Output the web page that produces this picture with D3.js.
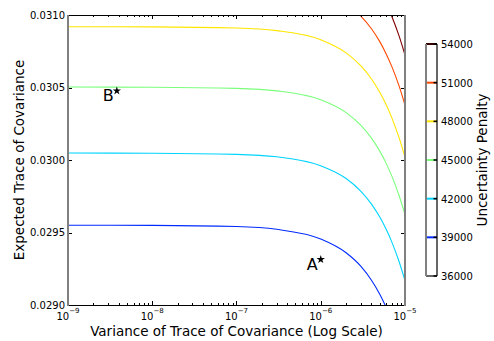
<!DOCTYPE html>
<html>
<head>
<meta charset="utf-8">
<script src="https://cdn.jsdelivr.net/npm/d3@7"></script>
<style>
  html, body { margin: 0; padding: 0; background: #fff; }
  svg { display: block; font-family: "DejaVu Sans", sans-serif; }
</style>
</head>
<body>
<svg id="chart" width="494" height="341"></svg>
<script>
// ---- data ----
const penalties = [39000, 42000, 45000, 48000, 51000, 54000];
const lineColors = ["#002bff", "#00d4ff", "#7bff7b", "#ffe600", "#ff4800", "#800000"];
const variances = [1e-9, 1e-8, 1e-7, 3e-7, 1e-6, 2e-6, 3e-6, 4e-6, 5e-6, 6e-6, 7e-6, 8.5e-6, 1e-5];
const trace39000 = [0.029550, 0.029549, 0.029541, 0.029522, 0.029455, 0.029360, 0.029266, 0.029171, 0.029076, 0.028981, 0.028886, 0.028744, 0.028602];
const trace42000 = [0.030048, 0.030047, 0.030039, 0.030022, 0.029960, 0.029872, 0.029784, 0.029696, 0.029608, 0.029520, 0.029432, 0.029300, 0.029168];
const trace45000 = [0.030503, 0.030502, 0.030494, 0.030477, 0.030415, 0.030327, 0.030239, 0.030151, 0.030063, 0.029975, 0.029887, 0.029755, 0.029623];
const trace48000 = [0.030919, 0.030918, 0.030910, 0.030892, 0.030829, 0.030739, 0.030649, 0.030559, 0.030469, 0.030379, 0.030289, 0.030154, 0.030019];
const trace51000 = [0.031256, 0.031255, 0.031247, 0.031230, 0.031168, 0.031081, 0.030993, 0.030905, 0.030818, 0.030730, 0.030642, 0.030511, 0.030379];
const trace54000 = [0.031604, 0.031603, 0.031595, 0.031578, 0.031516, 0.031428, 0.031340, 0.031252, 0.031164, 0.031076, 0.030988, 0.030856, 0.030724];
const seriesValues = [trace39000, trace42000, trace45000, trace48000, trace51000, trace54000];

const yTicks = [0.0290, 0.0295, 0.0300, 0.0305, 0.0310];
const xTickExponents = [-9, -8, -7, -6, -5];
const cbTicks = [36000, 39000, 42000, 45000, 48000, 51000, 54000];

const pointLabels = ["A", "B"];
const pointX = [1e-6, 3.8e-9];
const pointY = [0.029314, 0.030477];

const xLabel = "Variance of Trace of Covariance (Log Scale)";
const yLabel = "Expected Trace of Covariance";
const cbLabel = "Uncertainty Penalty";

// ---- layout ----
const L = 68, R = 405, T = 15, B = 305;
const cbL = 426, cbR = 437, cbT = 44, cbB = 276;

const svg = d3.select("#chart");
const x = d3.scaleLog().domain([1e-9, 1e-5]).range([L, R]);
const y = d3.scaleLinear().domain([0.0290, 0.0310]).range([B, T]);

svg.append("defs").append("clipPath").attr("id", "plotclip")
  .append("rect").attr("x", L).attr("y", T).attr("width", R - L).attr("height", B - T);

// curves
const line = d3.line()
  .x(d => x(d[0])).y(d => y(d[1]))
  .curve(d3.curveMonotoneX);

const curves = svg.append("g").attr("clip-path", "url(#plotclip)");
seriesValues.forEach((vals, i) => {
  const pts = variances.map((v, j) => [v, vals[j]]);
  curves.append("path")
    .attr("d", line(pts))
    .attr("fill", "none")
    .attr("stroke", lineColors[i])
    .attr("stroke-width", 1.1);
});

// ticks (inward)
const tickG = svg.append("g").attr("stroke", "#000").attr("stroke-width", 1);
// x major & minor
for (let e = -9; e <= -5; e++) {
  for (let m = 1; m <= 9; m++) {
    const v = m * Math.pow(10, e);
    if (v > 1e-5 * 1.0001) break;
    const px = Math.round(x(v)) + 0.5;
    const len = m === 1 ? 4 : 2;
    tickG.append("line").attr("x1", px).attr("x2", px).attr("y1", B).attr("y2", B - len);
    tickG.append("line").attr("x1", px).attr("x2", px).attr("y1", T).attr("y2", T + len);
  }
}
// y major
yTicks.forEach(v => {
  const py = Math.round(y(v)) + 0.5;
  tickG.append("line").attr("x1", L).attr("x2", L + 4).attr("y1", py).attr("y2", py);
  tickG.append("line").attr("x1", R).attr("x2", R - 4).attr("y1", py).attr("y2", py);
});

// spines
svg.append("line").attr("x1", L).attr("x2", R).attr("y1", T + 0.5).attr("y2", T + 0.5)
  .attr("stroke", "#000").attr("stroke-width", 1.2);
svg.append("line").attr("x1", L).attr("x2", R).attr("y1", B + 0.5).attr("y2", B + 0.5)
  .attr("stroke", "#000").attr("stroke-width", 1.2);
svg.append("line").attr("x1", L).attr("x2", L).attr("y1", T).attr("y2", B + 1)
  .attr("stroke", "#808080").attr("stroke-width", 2);
svg.append("line").attr("x1", R).attr("x2", R).attr("y1", T).attr("y2", B + 1)
  .attr("stroke", "#808080").attr("stroke-width", 2);

// y tick labels
svg.append("g").selectAll("text").data(yTicks).join("text")
  .attr("x", L - 3).attr("y", d => y(d) + 3.7)
  .attr("text-anchor", "end").attr("font-size", 10).attr("fill", "#000")
  .text(d => d3.format(".4f")(d));

// x tick labels 10^e
const xl = svg.append("g");
xTickExponents.forEach(e => {
  const t = xl.append("text")
    .attr("x", x(Math.pow(10, e))).attr("y", 319.5)
    .attr("text-anchor", "middle").attr("font-size", 10).attr("fill", "#000");
  t.append("tspan").text("10");
  t.append("tspan").attr("dy", -7).attr("font-size", 7).text("\u2212" + Math.abs(e));
});

// axis labels
svg.append("text").attr("x", (L + R) / 2).attr("y", 335.5)
  .attr("text-anchor", "middle").attr("font-size", 13.5).attr("fill", "#000")
  .text(xLabel);
svg.append("text").attr("transform", `translate(23.5,${(T + B) / 2}) rotate(-90)`)
  .attr("text-anchor", "middle").attr("font-size", 13.5).attr("fill", "#000")
  .text(yLabel);

// annotated points
const star = d3.symbol().type(d3.symbolStar).size(22);
pointLabels.forEach((lab, i) => {
  const px = x(pointX[i]), py = y(pointY[i]);
  svg.append("path").attr("d", star()).attr("transform", `translate(${px},${py})`).attr("fill", "#000");
  svg.append("text").attr("x", px - 3).attr("y", py + 10.5)
    .attr("text-anchor", "end").attr("font-size", 16).attr("fill", "#000").text(lab);
});

// colorbar
const cb = d3.scaleLinear().domain([36000, 54000]).range([cbB, cbT]);
svg.append("rect").attr("x", cbL).attr("y", cbT).attr("width", cbR - cbL).attr("height", cbB - cbT)
  .attr("fill", "#fff");
penalties.forEach((p, i) => {
  svg.append("line").attr("x1", cbL).attr("x2", cbR).attr("y1", cb(p)).attr("y2", cb(p))
    .attr("stroke", lineColors[i]).attr("stroke-width", 2);
});
cbTicks.forEach(v => {
  svg.append("line").attr("x1", cbR - 3.5).attr("x2", cbR).attr("y1", cb(v)).attr("y2", cb(v))
    .attr("stroke", "#000").attr("stroke-width", 1.5);
});
svg.append("line").attr("x1", cbL).attr("x2", cbR).attr("y1", cbT).attr("y2", cbT).attr("stroke", "#000").attr("stroke-width", 1.2);
svg.append("line").attr("x1", cbL).attr("x2", cbR).attr("y1", cbB).attr("y2", cbB).attr("stroke", "#000").attr("stroke-width", 1.2);
svg.append("line").attr("x1", cbR).attr("x2", cbR).attr("y1", cbT).attr("y2", cbB).attr("stroke", "#000").attr("stroke-width", 1.2);
svg.append("line").attr("x1", cbL).attr("x2", cbL).attr("y1", cbT).attr("y2", cbB).attr("stroke", "#808080").attr("stroke-width", 2);

svg.append("g").selectAll("text").data(cbTicks).join("text")
  .attr("x", cbR + 4).attr("y", d => cb(d) + 4)
  .attr("font-size", 10).attr("fill", "#000")
  .text(d => d);

svg.append("text").attr("transform", `translate(487,${(cbT + cbB) / 2}) rotate(-90)`)
  .attr("text-anchor", "middle").attr("font-size", 13.5).attr("fill", "#000")
  .text(cbLabel);
</script>
</body>
</html>
